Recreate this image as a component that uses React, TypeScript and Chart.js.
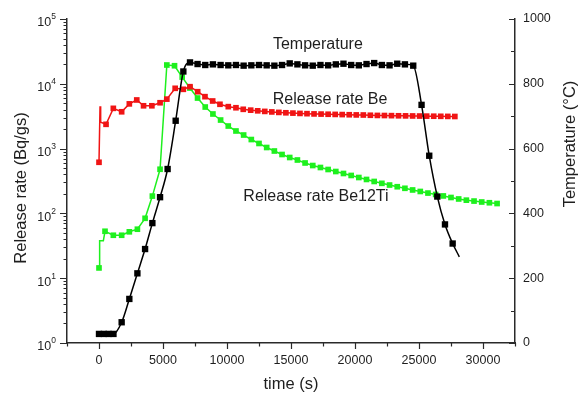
import React, { useEffect, useRef } from 'react';
import { Chart, registerables } from 'chart.js';

Chart.register(...registerables);

const FONT = '"Liberation Sans", Arial, Helvetica, sans-serif';
const AXIS_COLOR = '#2a2a2a';
const TEXT_COLOR = '#1e1e1e';
const BLACK = '#000000';
const RED = '#f01414';
const GREEN = '#1ef01e';

// ---- Temperature (°C), right axis ----
const tempTime = [0, 380, 750, 1130, 1770, 2370, 3000, 3600, 4170, 4770, 5360, 5990, 6590,
  7110, 7700, 8300, 8900, 9500, 10100, 10700, 11300, 11900, 12500, 13100, 13700, 14300, 14900,
  15500, 16100, 16700, 17300, 17900, 18500, 19100, 19700, 20300, 20900, 21500, 22100, 22700,
  23300, 23900, 24550, 25200, 25800, 26430, 27030, 27630, 28150];
const tempC = [28, 28, 28, 28, 64, 136, 215, 290, 370, 450, 537, 686, 838,
  866, 861, 858, 860, 858, 857, 858, 856, 857, 858, 857, 856, 858, 863,
  860, 857, 856, 858, 857, 860, 862, 858, 857, 861, 864, 858, 857,
  862, 860, 856, 735, 578, 452, 366, 307, 266];

// ---- Release rate Be (Bq/gs), left log axis ----
const beTime = [0, 80, 130, 550, 1120, 1770, 2370, 2950, 3480, 4130, 4770, 5300, 5950, 6590,
  7110, 7710, 8280, 8880, 9450, 10100, 10700, 11270, 11850, 12400, 12950, 13500, 14050, 14600,
  15150, 15700, 16250, 16800, 17350, 17900, 18450, 19000, 19550, 20100, 20650, 21200, 21750,
  22300, 22850, 23400, 23950, 24500, 25050, 25600, 26150, 26700, 27250, 27800];
const beRate = [615, 4500, 2550, 2370, 4180, 3700, 4900, 5630, 4580, 4580, 5100, 5800, 8520, 8220,
  9020, 7550, 6330, 5430, 4830, 4440, 4270, 4040, 3920, 3830, 3750, 3680, 3620, 3570,
  3530, 3490, 3460, 3430, 3410, 3390, 3370, 3350, 3330, 3310, 3300, 3270, 3250,
  3240, 3225, 3210, 3200, 3190, 3180, 3170, 3160, 3150, 3140, 3130];

// ---- Release rate Be12Ti (Bq/gs), left log axis ----
const tiTime = [0, 50, 340, 470, 1120, 1770, 2370, 3000, 3600, 4170, 4770, 5300, 5900, 6500,
  7100, 7700, 8300, 8900, 9500, 10100, 10700, 11300, 11900, 12500, 13100, 13700, 14300, 14900,
  15500, 16100, 16700, 17300, 17900, 18500, 19100, 19700, 20300, 20900, 21500, 22100, 22700,
  23300, 23900, 24500, 25100, 25700, 26300, 26900, 27500, 28100, 28700, 29300, 29900, 30500, 31100];
const tiRate = [14.4, 38, 38, 53, 46, 46, 52, 57, 84, 185, 480, 19500, 19000, 12700,
  8600, 6030, 4380, 3420, 2760, 2230, 1870, 1620, 1380, 1200, 1040, 918, 811, 729,
  667, 600, 548, 511, 476, 443, 413, 385, 358, 334, 311, 291, 274,
  258, 244, 230, 218, 206, 196, 186, 176, 167, 160, 155, 150, 146, 142];

// points drawn as line vertices only (no marker)
const tempNoMarker = [48];
const beNoMarker = [1, 2];
const tiNoMarker = [1, 2];

// axis ticks
const xTickLabels = [0, 5000, 10000, 15000, 20000, 25000, 30000];
const tempTickLabels = [0, 200, 400, 600, 800, 1000];
const logExponents = [0, 1, 2, 3, 4, 5];

const X_MIN = -2500;
const X_MAX = 32500;

const TEXT_LABELS = [
  { text: 'Temperature', x: 17100, y: 920, axis: 'y2' },
  { text: 'Release rate Be', x: 18050, y: 5760, axis: 'y' },
  { text: 'Release rate Be12Ti', x: 16950, y: 181, axis: 'y' },
];

const overlayPlugin = {
  id: 'overlay',
  afterDraw(chart: any) {
    const { ctx, chartArea: ca, scales } = chart;
    const xs = scales.x;
    const yl = scales.y;
    const yr = scales.y2;
    ctx.save();
    ctx.strokeStyle = AXIS_COLOR;
    ctx.lineWidth = 1.2;
    ctx.beginPath();
    // bottom ticks (outward)
    for (let v = X_MIN; v <= X_MAX; v += 2500) {
      const px = Math.round(xs.getPixelForValue(v)) + 0.5;
      const len = v % 5000 === 0 ? 6 : 3.5;
      ctx.moveTo(px, ca.bottom);
      ctx.lineTo(px, ca.bottom + len);
    }
    // left log ticks (outward)
    for (let e = 0; e < 5; e++) {
      for (let m = 1; m < 10; m++) {
        const v = m * Math.pow(10, e);
        const py = Math.round(yl.getPixelForValue(v)) + 0.5;
        const len = m === 1 ? 7 : 3.5;
        ctx.moveTo(ca.left, py);
        ctx.lineTo(ca.left - len, py);
      }
    }
    {
      const py = Math.round(yl.getPixelForValue(1e5)) + 0.5;
      ctx.moveTo(ca.left, py);
      ctx.lineTo(ca.left - 7, py);
    }
    // right ticks (inward)
    for (let v = 0; v <= 1000; v += 100) {
      const py = Math.round(yr.getPixelForValue(v)) + 0.5;
      const len = v % 200 === 0 ? 6 : 4;
      ctx.moveTo(ca.right, py);
      ctx.lineTo(ca.right - len, py);
    }
    ctx.stroke();

    // left axis labels 10^n
    ctx.fillStyle = TEXT_COLOR;
    ctx.textBaseline = 'middle';
    ctx.textAlign = 'left';
    logExponents.forEach((e) => {
      const py = yl.getPixelForValue(Math.pow(10, e));
      const exp = String(e);
      ctx.font = `8.5px ${FONT}`;
      const wExp = ctx.measureText(exp).width;
      ctx.font = `12.5px ${FONT}`;
      const wBase = ctx.measureText('10').width;
      const right = ca.left - 11;
      ctx.fillText('10', right - wExp - wBase, py + 4);
      ctx.font = `8.5px ${FONT}`;
      ctx.fillText(exp, right - wExp, py - 2);
    });

    // axis titles
    ctx.font = `16.5px ${FONT}`;
    ctx.textAlign = 'center';
    ctx.textBaseline = 'middle';
    ctx.fillText('time (s)', (ca.left + ca.right) / 2, 384);
    ctx.save();
    ctx.translate(21, 188);
    ctx.rotate(-Math.PI / 2);
    ctx.fillText('Release rate (Bq/gs)', 0, 0);
    ctx.restore();
    ctx.save();
    ctx.translate(570, 144);
    ctx.rotate(-Math.PI / 2);
    ctx.fillText('Temperature (°C)', 0, 0);
    ctx.restore();

    // in-plot labels
    ctx.font = `16px ${FONT}`;
    TEXT_LABELS.forEach((l) => {
      const sc = l.axis === 'y2' ? yr : yl;
      ctx.fillText(l.text, xs.getPixelForValue(l.x), sc.getPixelForValue(l.y));
    });
    ctx.restore();
  },
};

function toPoints(xs: number[], ys: number[]) {
  return xs.map((x, i) => ({ x, y: ys[i] }));
}

export default function App() {
  const canvasRef = useRef<HTMLCanvasElement | null>(null);

  useEffect(() => {
    document.body.style.margin = '0';
    const canvas = canvasRef.current;
    if (!canvas) return;
    const marker = (skip: number[], r: number) => (c: any) => (skip.includes(c.dataIndex) ? 0 : r);
    const chart = new Chart(canvas, {
      type: 'line',
      data: {
        datasets: [
          {
            label: 'Temperature',
            data: toPoints(tempTime, tempC),
            yAxisID: 'y2',
            borderColor: BLACK,
            backgroundColor: BLACK,
            borderWidth: 1.5,
            pointStyle: 'rect',
            pointRadius: marker(tempNoMarker, 4.5),
            pointBorderWidth: 0,
            cubicInterpolationMode: 'monotone',
          },
          {
            label: 'Release rate Be',
            data: toPoints(beTime, beRate),
            yAxisID: 'y',
            borderColor: RED,
            backgroundColor: RED,
            borderWidth: 1.5,
            pointStyle: 'rect',
            pointRadius: marker(beNoMarker, 4),
            pointBorderWidth: 0,
            tension: 0,
          },
          {
            label: 'Release rate Be12Ti',
            data: toPoints(tiTime, tiRate),
            yAxisID: 'y',
            borderColor: GREEN,
            backgroundColor: GREEN,
            borderWidth: 1.5,
            pointStyle: 'rect',
            pointRadius: marker(tiNoMarker, 4),
            pointBorderWidth: 0,
            tension: 0,
          },
        ],
      },
      options: {
        responsive: false,
        animation: false,
        layout: { padding: { top: 19, left: 0, right: 0, bottom: 0 } },
        plugins: { legend: { display: false }, tooltip: { enabled: false }, title: { display: false } },
        scales: {
          x: {
            type: 'linear',
            position: 'bottom',
            min: X_MIN,
            max: X_MAX,
            grid: { display: false, drawTicks: false },
            border: { display: true, color: AXIS_COLOR, width: 1.5 },
            ticks: {
              autoSkip: false,
              maxRotation: 0,
              padding: 10,
              color: TEXT_COLOR,
              font: { family: FONT, size: 12.5 },
              callback: (v: any) => String(v),
            },
            afterBuildTicks: (s: any) => {
              s.ticks = xTickLabels.map((v) => ({ value: v }));
            },
            afterFit: (s: any) => {
              s.height = 55;
            },
          },
          y: {
            type: 'logarithmic',
            position: 'left',
            min: 1,
            max: 100000,
            grid: { display: false, drawTicks: false },
            border: { display: true, color: AXIS_COLOR, width: 1.5 },
            ticks: { display: false },
            afterFit: (s: any) => {
              s.width = 67;
            },
          },
          y2: {
            type: 'linear',
            position: 'right',
            min: 0,
            max: 1000,
            grid: { display: false, drawTicks: false },
            border: { display: true, color: AXIS_COLOR, width: 1.5 },
            ticks: {
              padding: 8,
              color: TEXT_COLOR,
              font: { family: FONT, size: 12.5 },
              callback: (v: any) => String(v),
            },
            afterBuildTicks: (s: any) => {
              s.ticks = tempTickLabels.map((v) => ({ value: v }));
            },
            afterFit: (s: any) => {
              s.width = 64;
            },
          },
        },
      },
      plugins: [overlayPlugin],
    } as any);
    return () => chart.destroy();
  }, []);

  return (
    <div style={{ position: 'absolute', left: 0, top: 0, width: 579, height: 398, background: '#fff' }}>
      <canvas ref={canvasRef} width={579} height={398} style={{ display: 'block' }} />
    </div>
  );
}
